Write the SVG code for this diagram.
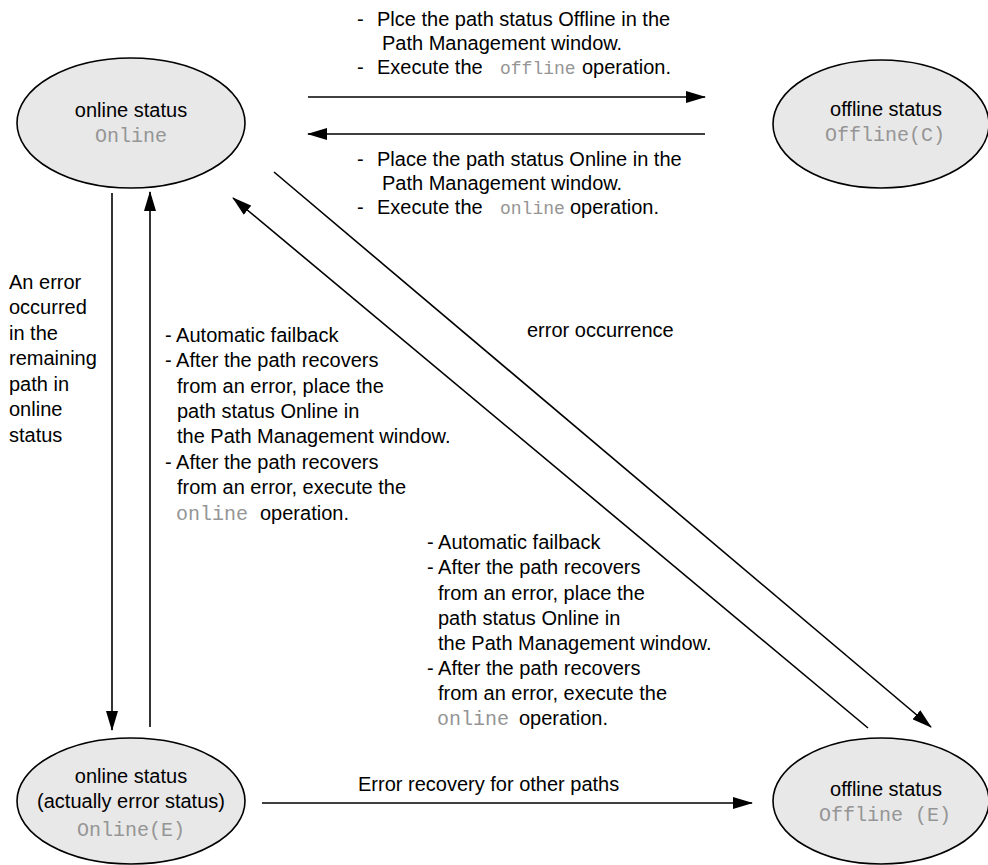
<svg xmlns="http://www.w3.org/2000/svg" width="988" height="865" viewBox="0 0 988 865">
<defs>
<style>
.n{fill:#e8e8e8;stroke:#000;stroke-width:1.6}
.t{font-family:"Liberation Sans",Arial,sans-serif;font-size:20px;fill:#000}
.c{text-anchor:middle}
.m{font-family:"Liberation Mono","Courier New",monospace;font-size:20px;fill:#959595}
.s{font-size:18px}
.e{stroke:#000;stroke-width:1.6;fill:none;marker-end:url(#ah)}
</style>
<marker id="ah" viewBox="0 0 20 12" refX="19" refY="6" markerWidth="20" markerHeight="12" markerUnits="userSpaceOnUse" orient="auto">
<path d="M0,0 L20,6 L0,12 z" fill="#000"/>
</marker>
</defs>
<rect width="988" height="865" fill="#fff"/>

<g id="online">
<ellipse class="n" cx="131" cy="123" rx="114" ry="65"/>
<text class="t c" x="131" y="117">online status</text>
<text class="m c" x="131" y="142">Online</text>
</g>
<g id="offlineC">
<ellipse class="n" cx="881" cy="124" rx="108" ry="64"/>
<text class="t c" x="886" y="116">offline status</text>
<text class="m c" x="885" y="141">Offline(C)</text>
</g>
<g id="onlineE">
<ellipse class="n" cx="131" cy="801" rx="114" ry="63"/>
<text class="t c" x="131" y="783">online status</text>
<text class="t c" x="131" y="808">(actually error status)</text>
<text class="m c" x="131" y="836">Online(E)</text>
</g>
<g id="offlineE">
<ellipse class="n" cx="881" cy="801" rx="108" ry="63"/>
<text class="t c" x="886" y="796">offline status</text>
<text class="m c" x="885" y="821">Offline (E)</text>
</g>

<g id="connectors">
<line class="e" x1="308" y1="97" x2="705" y2="97"/>
<line class="e" x1="705" y1="134" x2="308" y2="134"/>
<line class="e" x1="112" y1="193" x2="112" y2="730"/>
<line class="e" x1="150" y1="727" x2="150" y2="192"/>
<line class="e" x1="274" y1="172" x2="931" y2="727"/>
<line class="e" x1="868" y1="728" x2="233" y2="198"/>
<line class="e" x1="262" y1="803" x2="752" y2="803"/>
</g>

<g id="labels">
<text class="t" x="357" y="26">-</text>
<text class="t" x="377" y="26">Plce the path status Offline in the</text>
<text class="t" x="382" y="50">Path Management window.</text>
<text class="t" x="357" y="74">-</text>
<text class="t" x="377" y="74">Execute the</text>
<text class="m s" x="500" y="74">offline</text>
<text class="t" x="582" y="74">operation.</text>

<text class="t" x="357" y="166">-</text>
<text class="t" x="377" y="166">Place the path status Online in the</text>
<text class="t" x="382" y="190">Path Management window.</text>
<text class="t" x="357" y="214">-</text>
<text class="t" x="377" y="214">Execute the</text>
<text class="m s" x="500" y="214">online</text>
<text class="t" x="570" y="214">operation.</text>

<text class="t" x="9" y="289">An error</text>
<text class="t" x="9" y="314">occurred</text>
<text class="t" x="9" y="340">in the</text>
<text class="t" x="9" y="365">remaining</text>
<text class="t" x="9" y="391">path in</text>
<text class="t" x="9" y="416">online</text>
<text class="t" x="9" y="442">status</text>

<text class="t" x="165" y="342">- Automatic failback</text>
<text class="t" x="165" y="367">- After the path recovers</text>
<text class="t" x="177" y="393">from an error, place the</text>
<text class="t" x="177" y="418">path status Online in</text>
<text class="t" x="177" y="443">the Path Management window.</text>
<text class="t" x="165" y="469">- After the path recovers</text>
<text class="t" x="177" y="494">from an error, execute the</text>
<text class="m" x="176" y="520">online</text>
<text class="t" x="260" y="520">operation.</text>

<text class="t" x="527" y="337">error occurrence</text>

<text class="t" x="427" y="549">- Automatic failback</text>
<text class="t" x="427" y="574">- After the path recovers</text>
<text class="t" x="438" y="600">from an error, place the</text>
<text class="t" x="438" y="625">path status Online in</text>
<text class="t" x="438" y="650">the Path Management window.</text>
<text class="t" x="427" y="675">- After the path recovers</text>
<text class="t" x="438" y="700">from an error, execute the</text>
<text class="m" x="437" y="725">online</text>
<text class="t" x="519" y="725">operation.</text>

<text class="t" x="358" y="791">Error recovery for other paths</text>
</g>
</svg>
